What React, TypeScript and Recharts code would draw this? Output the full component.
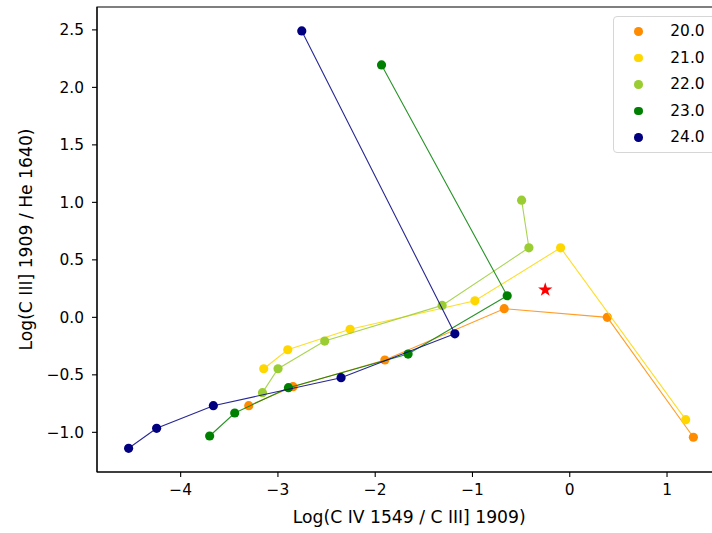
import { ScatterChart, Scatter, XAxis, YAxis, ReferenceArea } from "recharts";

// legend labels and colours
const temps = ["20.0", "21.0", "22.0", "23.0", "24.0"];
const colors = ["#ff8c00", "#ffd700", "#9acd32", "#008000", "#000080"];

// Log(C IV 1549 / C III] 1909)
const x20 = [-3.3, -2.845, -1.901, -0.674, 0.386, 1.271];
const x21 = [-3.146, -2.899, -2.258, -0.975, -0.094, 1.192];
const x22 = [-3.159, -2.999, -2.519, -1.312, -0.42, -0.495];
const x23 = [-3.702, -3.444, -2.892, -1.662, -0.643, -1.935];
const x24 = [-4.535, -4.247, -3.664, -2.351, -1.181, -2.755];

// Log(C III] 1909 / He 1640)
const y20 = [-0.768, -0.603, -0.371, 0.075, 0.0, -1.043];
const y21 = [-0.447, -0.282, -0.104, 0.144, 0.605, -0.89];
const y22 = [-0.655, -0.447, -0.206, 0.104, 0.605, 1.019];
const y23 = [-1.032, -0.832, -0.612, -0.319, 0.188, 2.195];
const y24 = [-1.139, -0.965, -0.768, -0.525, -0.143, 2.491];

// observed point (red star)
const obsX = [-0.252];
const obsY = [0.24];

const xTicks = [-4, -3, -2, -1, 0, 1];
const yTicks = [-1, -0.5, 0, 0.5, 1, 1.5, 2, 2.5];
const xDomain = [-4.86, 1.56];
const yDomain = [-1.345, 2.699];

const toPoints = (xs: number[], ys: number[]) => xs.map((x, i) => ({ x, y: ys[i] }));
const seriesData = [
  toPoints(x20, y20),
  toPoints(x21, y21),
  toPoints(x22, y22),
  toPoints(x23, y23),
  toPoints(x24, y24),
];
const obsData = toPoints(obsX, obsY);

const FONT = "DejaVu Sans";
const minus = (s: string) => s.replace("-", "\u2212");

const App = () => {
  return (
    <div style={{ position: "absolute", left: 0, top: 0, width: 712, height: 533, overflow: "hidden", background: "#fff" }}>
      <ScatterChart
        width={760}
        height={533}
        margin={{ top: 7, right: 38.5, bottom: 0, left: 0 }}
        style={{ fontFamily: FONT }}
      >
        <XAxis
          type="number"
          dataKey="x"
          domain={xDomain}
          ticks={xTicks}
          allowDataOverflow
          height={61}
          tickSize={5}
          tickMargin={7}
          tickFormatter={(v: number) => minus(String(v))}
          tick={{ fill: "#000", fontSize: 15.4, fontFamily: FONT }}
          axisLine={{ stroke: "#000", strokeWidth: 1.1 }}
          tickLine={{ stroke: "#000", strokeWidth: 1.1 }}
          label={{
            value: "Log(C IV 1549 / C III] 1909)",
            position: "insideBottom",
            offset: 10,
            style: { fill: "#000", fontSize: 17.2, fontFamily: FONT },
          }}
        />
        <YAxis
          type="number"
          dataKey="y"
          domain={yDomain}
          ticks={yTicks}
          allowDataOverflow
          width={97}
          tickSize={5}
          tickMargin={8}
          tickFormatter={(v: number) => minus(v.toFixed(1))}
          tick={{ fill: "#000", fontSize: 15.4, fontFamily: FONT }}
          axisLine={{ stroke: "#000", strokeWidth: 1.1 }}
          tickLine={{ stroke: "#000", strokeWidth: 1.1 }}
          label={{
            value: "Log(C III] 1909 / He 1640)",
            angle: -90,
            position: "insideLeft",
            offset: 25.5,
            style: { textAnchor: "middle", fill: "#000", fontSize: 17.2, fontFamily: FONT },
          }}
        />
        <ReferenceArea
          x1={xDomain[0]}
          x2={xDomain[1]}
          y1={yDomain[0]}
          y2={yDomain[1]}
          fill="none"
          stroke="#000"
          strokeWidth={1.1}
        />
        {seriesData.map((d, i) => (
          <Scatter
            key={temps[i]}
            name={temps[i]}
            data={d}
            fill={colors[i]}
            line={{ stroke: colors[i], strokeWidth: 1.1, strokeOpacity: 0.85 }}
            lineType="joint"
            isAnimationActive={false}
            shape={(p: any) => <circle cx={p.cx} cy={p.cy} r={4.6} fill={colors[i]} />}
          />
        ))}
        <Scatter data={obsData} fill="red" shape="star" size={40} isAnimationActive={false} />
      </ScatterChart>
      <div
        style={{
          position: "absolute",
          left: 613,
          top: 16,
          width: 101,
          height: 135,
          border: "1px solid #d6d6d6",
          borderRadius: 4,
          background: "rgba(255,255,255,0.8)",
          fontFamily: FONT,
          fontSize: 15.4,
        }}
      >
        {temps.map((t, i) => (
          <div key={t} style={{ position: "absolute", left: 0, top: 14.7 + i * 26.5 - 10, height: 20, width: 100 }}>
            <span
              style={{
                position: "absolute",
                left: 24.7 - 4.3,
                top: 10 - 4.3,
                width: 8.6,
                height: 8.6,
                borderRadius: "50%",
                background: colors[i],
              }}
            />
            <span style={{ position: "absolute", left: 56.3, top: 10 - 9.5, lineHeight: "19px", color: "#000" }}>{t}</span>
          </div>
        ))}
      </div>
    </div>
  );
};

export default App;
